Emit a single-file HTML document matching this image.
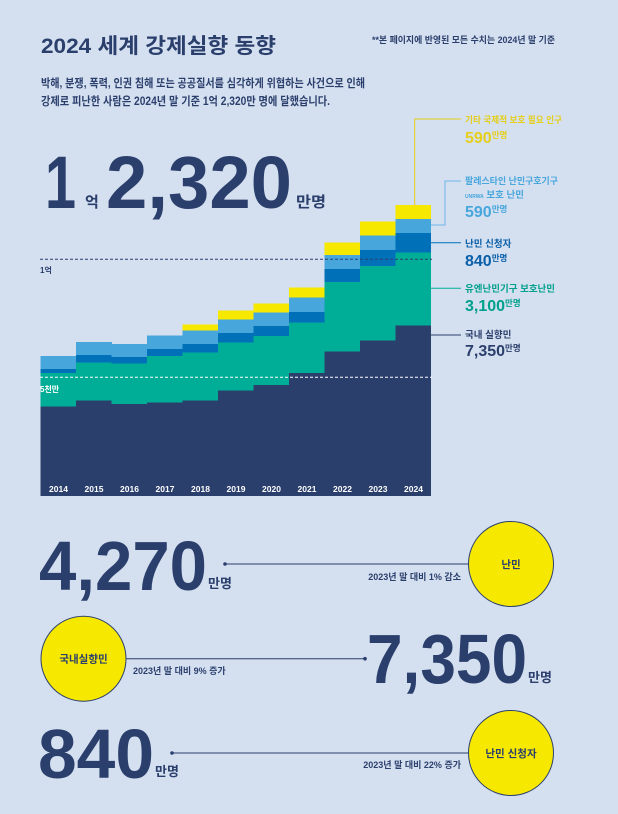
<!DOCTYPE html>
<html><head><meta charset="utf-8"><style>
html,body{margin:0;padding:0;background:#d4dff0;}
svg{display:block;font-family:"Liberation Sans","Noto Sans CJK KR",sans-serif;}
</style></head><body>
<svg width="618" height="814" viewBox="0 0 618 814" xmlns="http://www.w3.org/2000/svg">
<rect width="618" height="814" fill="#d4dff0"/>
<text x="41" y="53" font-size="21" font-weight="bold" fill="#2b3f6c" textLength="235" lengthAdjust="spacingAndGlyphs">2024 세계 강제실향 동향</text>
<text x="372" y="43" font-size="9" font-weight="bold" fill="#2b3f6c" textLength="183" lengthAdjust="spacingAndGlyphs">**본 페이지에 반영된 모든 수치는 2024년 말 기준</text>
<text x="41" y="87" font-size="11.5" fill="#2b3f6c" font-weight="bold" textLength="324" lengthAdjust="spacingAndGlyphs">박해, 분쟁, 폭력, 인권 침해 또는 공공질서를 심각하게 위협하는 사건으로 인해</text>
<text x="41" y="105" font-size="11.5" fill="#2b3f6c" font-weight="bold" textLength="289" lengthAdjust="spacingAndGlyphs">강제로 피난한 사람은 2024년 말 기준 1억 2,320만 명에 달했습니다.</text>
<g fill="#2b3f6c" font-weight="bold">
<text x="45" y="208" font-size="74" textLength="31" lengthAdjust="spacingAndGlyphs">1</text>
<text x="85" y="207" font-size="15">억</text>
<text x="106" y="208" font-size="74" textLength="186" lengthAdjust="spacingAndGlyphs">2,320</text>
<text x="296" y="207" font-size="15" textLength="30" lengthAdjust="spacingAndGlyphs">만명</text>
</g>
<g shape-rendering="crispEdges">
<rect x="40.7" y="356" width="35.6" height="140" fill="#47a6dc"/>
<rect x="40.7" y="369" width="35.6" height="127" fill="#0070b9"/>
<rect x="40.7" y="373" width="35.6" height="123" fill="#00ae97"/>
<rect x="40.7" y="406.7" width="35.6" height="89.3" fill="#2b3f6c"/>

<rect x="76.2" y="342" width="35.6" height="154" fill="#47a6dc"/>
<rect x="76.2" y="355" width="35.6" height="141" fill="#0070b9"/>
<rect x="76.2" y="362.7" width="35.6" height="133.3" fill="#00ae97"/>
<rect x="76.2" y="400.7" width="35.6" height="95.3" fill="#2b3f6c"/>

<rect x="111.7" y="344" width="35.6" height="152" fill="#47a6dc"/>
<rect x="111.7" y="357" width="35.6" height="139" fill="#0070b9"/>
<rect x="111.7" y="363.7" width="35.6" height="132.3" fill="#00ae97"/>
<rect x="111.7" y="404" width="35.6" height="92" fill="#2b3f6c"/>

<rect x="147.2" y="335.7" width="35.6" height="160.3" fill="#47a6dc"/>
<rect x="147.2" y="349" width="35.6" height="147" fill="#0070b9"/>
<rect x="147.2" y="356" width="35.6" height="140" fill="#00ae97"/>
<rect x="147.2" y="402.7" width="35.6" height="93.3" fill="#2b3f6c"/>

<rect x="182.7" y="324.7" width="35.6" height="171.3" fill="#f7e800"/>
<rect x="182.7" y="330.7" width="35.6" height="165.3" fill="#47a6dc"/>
<rect x="182.7" y="344" width="35.6" height="152" fill="#0070b9"/>
<rect x="182.7" y="352.3" width="35.6" height="143.7" fill="#00ae97"/>
<rect x="182.7" y="400.7" width="35.6" height="95.3" fill="#2b3f6c"/>

<rect x="218.2" y="310.7" width="35.6" height="185.3" fill="#f7e800"/>
<rect x="218.2" y="319.3" width="35.6" height="176.7" fill="#47a6dc"/>
<rect x="218.2" y="333" width="35.6" height="163" fill="#0070b9"/>
<rect x="218.2" y="342.3" width="35.6" height="153.7" fill="#00ae97"/>
<rect x="218.2" y="390.7" width="35.6" height="105.3" fill="#2b3f6c"/>

<rect x="253.7" y="303.3" width="35.6" height="192.7" fill="#f7e800"/>
<rect x="253.7" y="312.7" width="35.6" height="183.3" fill="#47a6dc"/>
<rect x="253.7" y="326" width="35.6" height="170" fill="#0070b9"/>
<rect x="253.7" y="336" width="35.6" height="160" fill="#00ae97"/>
<rect x="253.7" y="385" width="35.6" height="111" fill="#2b3f6c"/>

<rect x="289.2" y="287.7" width="35.6" height="208.3" fill="#f7e800"/>
<rect x="289.2" y="297.7" width="35.6" height="198.3" fill="#47a6dc"/>
<rect x="289.2" y="312" width="35.6" height="184" fill="#0070b9"/>
<rect x="289.2" y="322.7" width="35.6" height="173.3" fill="#00ae97"/>
<rect x="289.2" y="373" width="35.6" height="123" fill="#2b3f6c"/>

<rect x="324.7" y="242.3" width="35.6" height="253.7" fill="#f7e800"/>
<rect x="324.7" y="255" width="35.6" height="241" fill="#47a6dc"/>
<rect x="324.7" y="269" width="35.6" height="227" fill="#0070b9"/>
<rect x="324.7" y="282" width="35.6" height="214" fill="#00ae97"/>
<rect x="324.7" y="351.3" width="35.6" height="144.7" fill="#2b3f6c"/>

<rect x="360.2" y="221.7" width="35.6" height="274.3" fill="#f7e800"/>
<rect x="360.2" y="235.3" width="35.6" height="260.7" fill="#47a6dc"/>
<rect x="360.2" y="250" width="35.6" height="246" fill="#0070b9"/>
<rect x="360.2" y="266" width="35.6" height="230" fill="#00ae97"/>
<rect x="360.2" y="340.3" width="35.6" height="155.7" fill="#2b3f6c"/>

<rect x="395.7" y="205" width="35.5" height="291" fill="#f7e800"/>
<rect x="395.7" y="219" width="35.5" height="277" fill="#47a6dc"/>
<rect x="395.7" y="233" width="35.5" height="263" fill="#0070b9"/>
<rect x="395.7" y="252.7" width="35.5" height="243.3" fill="#00ae97"/>
<rect x="395.7" y="325.3" width="35.5" height="170.7" fill="#2b3f6c"/>
</g>
<line x1="40" y1="259.3" x2="432" y2="259.3" stroke="#2b3f6c" stroke-width="1" stroke-dasharray="3,2"/>
<line x1="40" y1="377.3" x2="432" y2="377.3" stroke="#fff" stroke-width="1" stroke-dasharray="3,2"/>
<text x="40" y="273" font-size="8" font-weight="bold" fill="#2b3f6c">1억</text>
<text x="40" y="392" font-size="8" font-weight="bold" fill="#fff">5천만</text>
<g font-size="8.5" font-weight="bold" fill="#fff" text-anchor="middle">
<text x="58.5" y="492">2014</text><text x="94" y="492">2015</text><text x="129.5" y="492">2016</text>
<text x="165" y="492">2017</text><text x="200.5" y="492">2018</text><text x="236" y="492">2019</text>
<text x="271.5" y="492">2020</text><text x="307" y="492">2021</text><text x="342.5" y="492">2022</text>
<text x="378" y="492">2023</text><text x="413.5" y="492">2024</text>
</g>
<g fill="none" stroke-width="1">
<polyline points="414.7,205 414.7,119 461,119" stroke="#e5cf1a"/>
<polyline points="431,225 445,225 445,181 461,181" stroke="#6fb4e4"/>
<line x1="431" y1="242.7" x2="461" y2="242.7" stroke="#0070b9"/>
<line x1="431" y1="288.3" x2="461" y2="288.3" stroke="#00ae97"/>
<line x1="431" y1="335" x2="461" y2="335" stroke="#2b3f6c"/>
</g>
<g font-weight="bold">
<text x="465" y="123" font-size="9" fill="#e5cf1a" textLength="97" lengthAdjust="spacingAndGlyphs">기타 국제적 보호 필요 인구</text>
<text x="465" y="143" font-size="16" fill="#e5cf1a">590<tspan font-size="8.5" dy="-5">만명</tspan></text>
<text x="465" y="184" font-size="9" fill="#47a6dc" textLength="93" lengthAdjust="spacingAndGlyphs">팔레스타인 난민구호기구</text>
<text x="465" y="198" font-size="5" fill="#47a6dc">UNRWA<tspan font-size="9.5"> 보호 난민</tspan></text>
<text x="465" y="217" font-size="16" fill="#47a6dc">590<tspan font-size="8.5" dy="-5">만명</tspan></text>
<text x="465" y="247" font-size="9.5" fill="#0a5fa8">난민 신청자</text>
<text x="465" y="266" font-size="16" fill="#0a5fa8">840<tspan font-size="8.5" dy="-5">만명</tspan></text>
<text x="465" y="292" font-size="9.5" fill="#00a08c">유엔난민기구 보호난민</text>
<text x="465" y="311" font-size="16" fill="#00a08c">3,100<tspan font-size="8.5" dy="-5">만명</tspan></text>
<text x="465" y="338" font-size="9.5" fill="#2b3f6c">국내 실향민</text>
<text x="465" y="356" font-size="16" fill="#2b3f6c">7,350<tspan font-size="8.5" dy="-5">만명</tspan></text>
</g>
<g fill="#2b3f6c" font-weight="bold">
<text x="39" y="590" font-size="70" textLength="168" lengthAdjust="spacingAndGlyphs">4,270</text>
<text x="208" y="588" font-size="13">만명</text>
<text x="367" y="683" font-size="70" textLength="160" lengthAdjust="spacingAndGlyphs">7,350</text>
<text x="528" y="682" font-size="13">만명</text>
<text x="38" y="778" font-size="70" textLength="116" lengthAdjust="spacingAndGlyphs">840</text>
<text x="155" y="776" font-size="13">만명</text>
</g>
<g stroke="#2b3f6c" stroke-width="1">
<line x1="225" y1="564" x2="469" y2="564"/>
<line x1="126" y1="658.7" x2="365" y2="658.7"/>
<line x1="172" y1="753" x2="469" y2="753"/>
</g>
<g fill="#2b3f6c">
<circle cx="225" cy="564" r="1.8"/><circle cx="365" cy="658.7" r="1.8"/><circle cx="172" cy="753" r="1.8"/>
</g>
<g fill="#f7e800" stroke="#2b3f6c" stroke-width="1">
<circle cx="511" cy="564" r="42.5"/>
<circle cx="83.5" cy="658.7" r="42.5"/>
<circle cx="511" cy="753" r="42.5"/>
</g>
<g fill="#2b3f6c" font-weight="bold" font-size="10.5" text-anchor="middle">
<text x="511" y="568">난민</text>
<text x="83.5" y="662.5">국내실향민</text>
<text x="511" y="757">난민 신청자</text>
</g>
<g fill="#2b3f6c" font-size="9" font-weight="bold">
<text x="461" y="580" text-anchor="end">2023년 말 대비 1% 감소</text>
<text x="133" y="674">2023년 말 대비 9% 증가</text>
<text x="461" y="768" text-anchor="end">2023년 말 대비 22% 증가</text>
</g>
</svg>
</body></html>
